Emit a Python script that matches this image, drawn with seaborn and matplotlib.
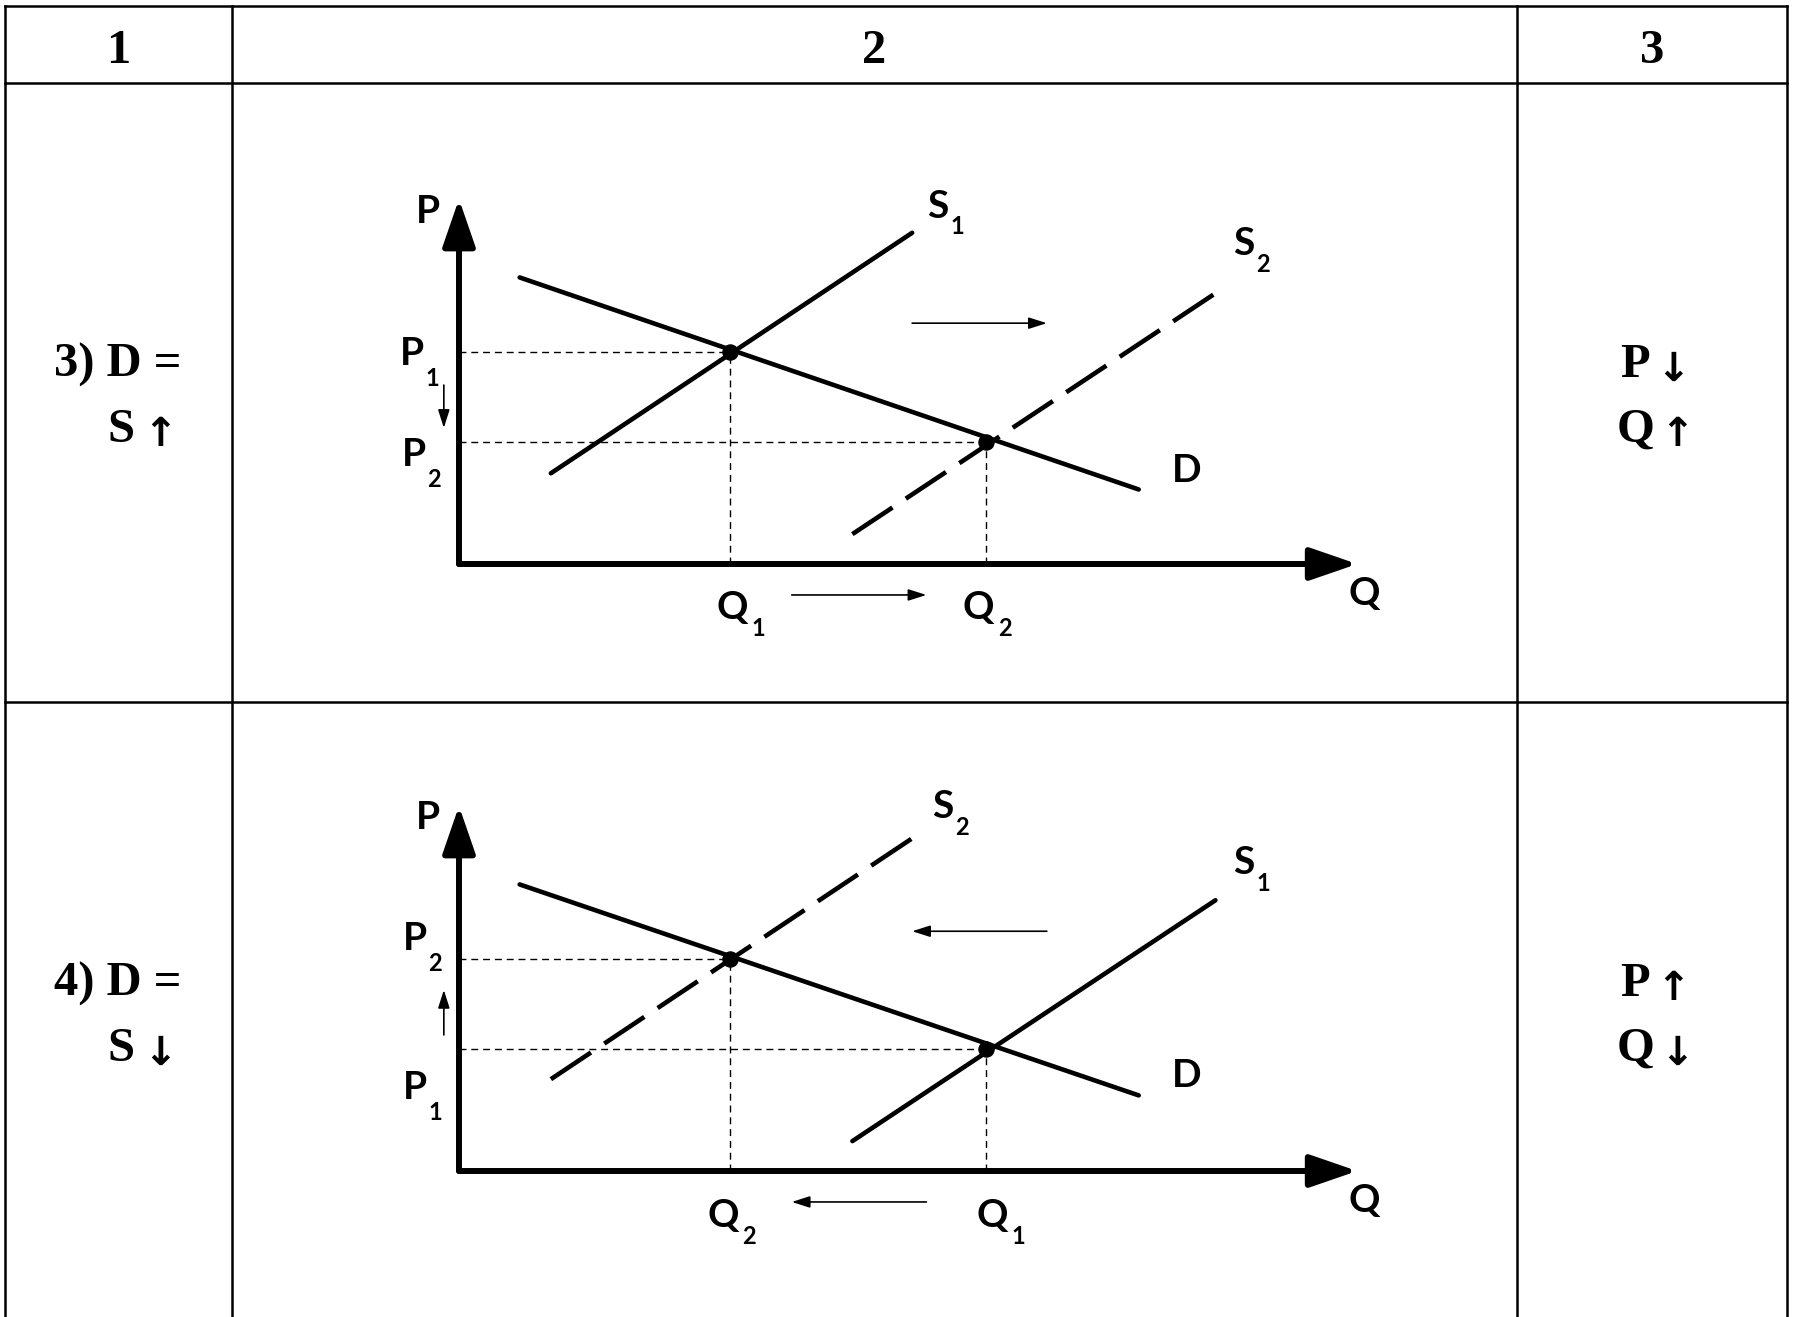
import numpy as np
import pandas as pd
import matplotlib
matplotlib.use("Agg")
import matplotlib.pyplot as plt
import seaborn as sns

# ---------------- data ----------------
header_labels = ["1", "2", "3"]
row_left_text = [["3) D =", "S", "\u2191"], ["4) D =", "S", "\u2193"]]
row_right_text = [["P", "\u2193", "Q", "\u2191"], ["P", "\u2191", "Q", "\u2193"]]

# panel 1 (supply increases): Q, P coordinates of curve end points
p1_demand_q = [0.68, 7.62]
p1_demand_p = [7.96, 2.07]
p1_s1_q = [1.03, 5.08]
p1_s1_p = [2.52, 9.20]
p1_s2_q = [4.41, 8.48]
p1_s2_p = [0.83, 7.52]
p1_eq_q = [3.04, 5.91]
p1_eq_p = [5.88, 3.40]

# panel 2 (supply decreases)
p2_demand_q = [0.68, 7.62]
p2_demand_p = [7.96, 2.10]
p2_s2_q = [1.03, 5.08]
p2_s2_p = [2.55, 9.24]
p2_s1_q = [4.41, 8.48]
p2_s1_p = [0.83, 7.52]
p2_eq_q = [3.04, 5.91]
p2_eq_p = [5.88, 3.40]

W, H = 1798, 1317
sns.set_theme(style="white")
plt.rcParams["font.family"] = ["Lato", "DejaVu Sans"]
plt.rcParams["text.color"] = "black"

fig = plt.figure(figsize=(W / 100, H / 100), dpi=100)
bg = fig.add_axes([0, 0, 1, 1])
bg.set_xlim(0, W)
bg.set_ylim(H, 0)
bg.axis("off")

# table grid
tlw = 1.8
xs_v = [5, 232, 1517, 1787]
for x in xs_v:
    bg.plot([x, x], [6, H + 5], color="black", lw=tlw, solid_capstyle="projecting")
for y in [6, 83, 702]:
    bg.plot([5, 1787], [y, y], color="black", lw=tlw, solid_capstyle="projecting")

serif = ["Liberation Serif", "DejaVu Serif"]
arrowfont = ["DejaVu Sans"]
col_centers = [118, 874, 1652]
for c, t in zip(col_centers, header_labels):
    bg.text(c, 63, t, ha="center", va="baseline", fontsize=35, fontweight="bold",
            family=serif)

row_base = [(377, 442), (996, 1061)]
TS = 35
AS = 29
for (b1, b2), lt, rt in zip(row_base, row_left_text, row_right_text):
    bg.text(118, b1, lt[0], ha="center", va="baseline", fontsize=TS,
            fontweight="bold", family=serif)
    bg.text(121, b2, lt[1], ha="center", va="baseline", fontsize=TS,
            fontweight="bold", family=serif)
    bg.text(160, b2 + 4, lt[2], ha="center", va="baseline", fontsize=AS,
            fontweight="bold", family=arrowfont)
    bg.text(1635, b1, rt[0], ha="center", va="baseline", fontsize=TS,
            fontweight="bold", family=serif)
    bg.text(1673, b1 + 4, rt[1], ha="center", va="baseline", fontsize=AS,
            fontweight="bold", family=arrowfont)
    bg.text(1636, b2, rt[2], ha="center", va="baseline", fontsize=TS,
            fontweight="bold", family=serif)
    bg.text(1677, b2 + 4, rt[3], ha="center", va="baseline", fontsize=AS,
            fontweight="bold", family=arrowfont)


def make_axes(origin_y_px):
    left = 459 / W
    width = (1351 - 459) / W
    height = 360 / H
    bottom = 1 - origin_y_px / H
    ax = fig.add_axes([left, bottom, width, height])
    ax.set_xlim(0, 10)
    ax.set_ylim(0, 10)
    ax.axis("off")
    ax.patch.set_alpha(0)
    return ax


SUB_OFF = {"P": (14.5, -18), "S": (14, -15), "Q": (19, -15)}


def label(ax, x, y, main, sub=None, size=28, subsize=17):
    ax.text(x, y, main, ha="center", va="center", fontsize=size,
            fontweight="bold", clip_on=False)
    if sub is not None:
        ax.annotate(sub, xy=(x, y), xytext=SUB_OFF[main], textcoords="offset points",
                    ha="center", va="center", fontsize=subsize,
                    fontweight="bold", annotation_clip=False)


def arrow(ax, start, end, lw=1.2, hl=1.1, hw=0.35, ms=10):
    ax.annotate("", xy=end, xytext=start,
                arrowprops=dict(arrowstyle=f"-|>,head_length={hl},head_width={hw}",
                                lw=lw, color="black", shrinkA=0, shrinkB=0,
                                mutation_scale=ms),
                annotation_clip=False)


def draw_panel(ax, dq, dp, left_q, left_p, right_q, right_p, left_dashed,
               eq_q, eq_p):
    curve_lw = 3.3
    dash = (0, (10.5, 3.5))
    df_d = pd.DataFrame({"Q": dq, "P": dp})
    sns.lineplot(data=df_d, x="Q", y="P", ax=ax, color="black", lw=curve_lw,
                 estimator=None, sort=False)
    df_l = pd.DataFrame({"Q": left_q, "P": left_p})
    df_r = pd.DataFrame({"Q": right_q, "P": right_p})
    sns.lineplot(data=df_l, x="Q", y="P", ax=ax, color="black", lw=curve_lw,
                 estimator=None, sort=False,
                 linestyle=dash if left_dashed else "-")
    sns.lineplot(data=df_r, x="Q", y="P", ax=ax, color="black", lw=curve_lw,
                 estimator=None, sort=False,
                 linestyle="-" if left_dashed else dash)
    # guide lines
    for q, p in zip(eq_q, eq_p):
        ax.plot([0, q], [p, p], color="black", lw=1.0, ls=(0, (5, 3.5)))
        ax.plot([q, q], [0, p], color="black", lw=1.0, ls=(0, (5, 3.5)))
    sns.scatterplot(x=eq_q, y=eq_p, ax=ax, color="black", s=120, zorder=5,
                    edgecolor="black", legend=False)
    # axes arrows
    arrow(ax, (0, 0), (10.07, 0), lw=4.3, hl=2.9, hw=1.0, ms=10)
    arrow(ax, (0, 0), (0, 10.14), lw=4.3, hl=2.9, hw=1.0, ms=10)
    ax.set_xlabel("")
    ax.set_ylabel("")


# ---------- panel 1 ----------
ax1 = make_axes(564)
draw_panel(ax1, p1_demand_q, p1_demand_p, p1_s1_q, p1_s1_p, p1_s2_q, p1_s2_p,
           False, p1_eq_q, p1_eq_p)
label(ax1, -0.35, 9.78, "P")
label(ax1, 5.37, 9.94, "S", "1")
label(ax1, 8.80, 8.89, "S", "2")
label(ax1, 8.16, 2.61, "D")
label(ax1, 10.15, -0.83, "Q")
label(ax1, -0.53, 5.86, "P", "1")
label(ax1, -0.51, 3.03, "P", "2")
label(ax1, 3.06, -1.21, "Q", "1")
label(ax1, 5.82, -1.21, "Q", "2")
arrow(ax1, (5.08, 6.69), (6.59, 6.69))
arrow(ax1, (3.73, -0.86), (5.24, -0.86))
arrow(ax1, (-0.17, 4.97), (-0.17, 3.78))

# ---------- panel 2 ----------
ax2 = make_axes(1171)
draw_panel(ax2, p2_demand_q, p2_demand_p, p2_s2_q, p2_s2_p, p2_s1_q, p2_s1_p,
           True, p2_eq_q, p2_eq_p)
label(ax2, -0.35, 9.81, "P")
label(ax2, 5.42, 10.13, "S", "2")
label(ax2, 8.80, 8.57, "S", "1")
label(ax2, 8.16, 2.64, "D")
label(ax2, 10.15, -0.83, "Q")
label(ax2, -0.49, 6.46, "P", "2")
label(ax2, -0.49, 2.32, "P", "1")
label(ax2, 2.96, -1.24, "Q", "2")
label(ax2, 5.98, -1.24, "Q", "1")
arrow(ax2, (6.59, 6.66), (5.08, 6.66))
arrow(ax2, (5.24, -0.86), (3.73, -0.86))
arrow(ax2, (-0.17, 3.78), (-0.17, 5.03))

fig.savefig("out.png", dpi=100)
